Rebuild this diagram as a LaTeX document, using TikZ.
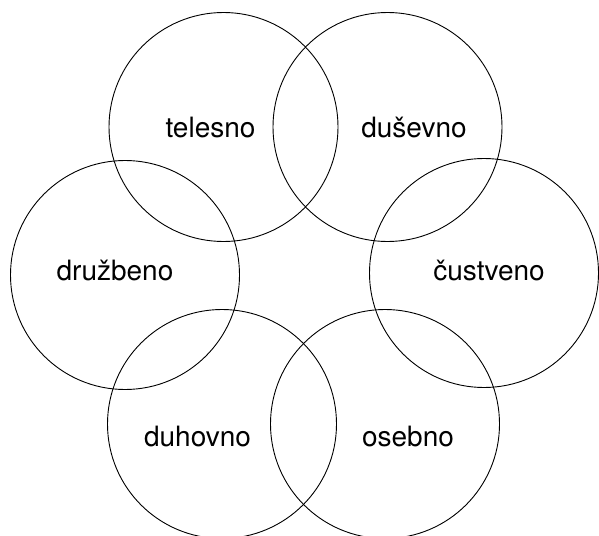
\documentclass[tikz,border=0pt]{standalone}
\usepackage{fontspec}
\setmainfont{TeX Gyre Heros}
\begin{document}
\begin{tikzpicture}[x=1pt,y=-1pt,
  ring/.style={draw, circle, line width=0.9pt, minimum size=229pt, inner sep=0pt},
  lbl/.style={font=\fontsize{28}{30}\selectfont, anchor=base, inner sep=0pt}]
\useasboundingbox (0,0) rectangle (599,535);
\clip (0,0) rectangle (599,535);
\node[ring] (ct) at (223.5,127) {};
\node[ring] (cd) at (387.5,127) {};
\node[ring] (cz) at (125,275) {};
\node[ring] (cc) at (484,273) {};
\node[ring] (ch) at (222,424) {};
\node[ring] (co) at (385,424) {};
\node[lbl] (tt) at (210.5,137) {telesno};
\node[lbl] (td) at (414,137) {duševno};
\node[lbl] (tz) at (115,280) {družbeno};
\node[lbl] (tc) at (489,280) {čustveno};
\node[lbl] (th) at (197.5,446) {duhovno};
\node[lbl] (to) at (408,446) {osebno};
\end{tikzpicture}
\end{document}
